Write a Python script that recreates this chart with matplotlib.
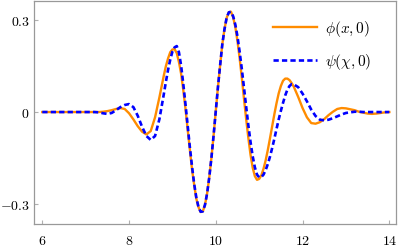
import matplotlib
matplotlib.use('agg')
import matplotlib.pyplot as plt

plt.rcParams['mathtext.fontset'] = 'cm'

# sampled curves read off the reference
# step 0.1 on the tails, 0.05 through the centre of the packet
x = ([round(6 + 0.1 * i, 2) for i in range(28)]
     + [round(8.8 + 0.05 * i, 2) for i in range(61)]
     + [round(11.9 + 0.1 * i, 2) for i in range(22)])

phi = [0, 0, 0, 0, 0, 0, 0, 0, 0, 0,                                   # 6.0 - 6.9
       0, 0, 0, 0.000, 0.001, 0.003, 0.006, 0.010, 0.013, 0.010,       # 7.0 - 7.9
       -0.004, -0.024, -0.046, -0.064, -0.073, -0.062, -0.017, 0.048,  # 8.0 - 8.7
       0.118, 0.150, 0.175, 0.195,                                     # 8.8 - 8.95
       0.204, 0.205, 0.192, 0.163, 0.125, 0.072, 0.012, -0.055, -0.120, -0.185,
       -0.236, -0.282, -0.310, -0.326, -0.324, -0.303, -0.265, -0.212, -0.148, -0.075,
       0.004, 0.082, 0.153, 0.221, 0.270, 0.307, 0.325, 0.327, 0.309, 0.277,
       0.231, 0.175, 0.111, 0.043, -0.023, -0.084, -0.139, -0.181, -0.209, -0.221,
       -0.218, -0.206, -0.185, -0.157, -0.123, -0.085, -0.046, -0.007, 0.029, 0.061,
       0.085, 0.102, 0.109, 0.109, 0.104, 0.094, 0.082,                # 11.5 - 11.8
       0.049, 0.013, -0.017, -0.036, -0.038, -0.033, -0.023, -0.010, 0.001, 0.010,
       0.013, 0.012, 0.009, 0.006, 0.001, -0.002, -0.005, -0.006, -0.005, -0.003,
       -0.001, 0]

psi = [0, 0, 0, 0, 0, 0, 0, 0, 0, 0,
       0, 0, 0, -0.001, -0.004, -0.006, -0.003, 0.006, 0.016, 0.023,
       0.026, 0.016, -0.012, -0.048, -0.078, -0.091, -0.078, -0.023,
       0.057, 0.099, 0.138, 0.171,
       0.197, 0.211, 0.215, 0.195, 0.152, 0.092, 0.027, -0.042, -0.112, -0.175,
       -0.233, -0.278, -0.309, -0.325, -0.324, -0.303, -0.265, -0.212, -0.148, -0.075,
       0.004, 0.082, 0.153, 0.221, 0.270, 0.307, 0.325, 0.327, 0.312, 0.285,
       0.246, 0.196, 0.140, 0.079, 0.017, -0.043, -0.097, -0.144, -0.180, -0.204,
       -0.213, -0.212, -0.204, -0.189, -0.169, -0.145, -0.117, -0.087, -0.055, -0.024,
       0.004, 0.030, 0.054, 0.073, 0.085, 0.091, 0.090,
       0.081, 0.060, 0.035, 0.008, -0.013, -0.025, -0.027, -0.025, -0.020, -0.014,
       -0.008, -0.003, -0.001, 0.001, 0.001, 0.000, 0, 0, 0, 0,
       0, 0]

xticks = [6, 8, 10, 12, 14]
yticks = [-0.3, 0, 0.3]
xtick_labels = ['$6$', '$8$', '$10$', '$12$', '$14$']
ytick_labels = ['$-0.3$', '$0$', '$0.3$']

fig = plt.figure(figsize=(3.99, 2.5), dpi=100)
ax = fig.add_axes([34 / 399, 1 - 224 / 250, 362 / 399, 223 / 250])

ax.plot(x, phi, color='#ff8c00', lw=1.7, label=r'$\phi(x,0)$')
ax.plot(x, psi, color='#0000ff', lw=1.9, dashes=(2.0, 1.2), label=r'$\psi(\chi,0)$')

ax.set_xlim(5.809, 14.154)
ax.set_ylim(-0.365, 0.362)
ax.set_xticks(xticks, labels=xtick_labels)
ax.set_yticks(yticks, labels=ytick_labels)
ax.tick_params(direction='in', length=3, width=0.8, color='#b0b0b0',
               labelsize=10, pad=3)
ax.tick_params(axis='x', pad=7)
for s in ax.spines.values():
    s.set_color('#999999')
    s.set_linewidth(0.9)

ax.legend(loc='upper left', bbox_to_anchor=(0.66, 0.92), frameon=False,
          fontsize=11, handlelength=2.9, handletextpad=0.5, labelspacing=0.85,
          borderpad=0, borderaxespad=0)

plt.savefig('out.png', dpi=100)
